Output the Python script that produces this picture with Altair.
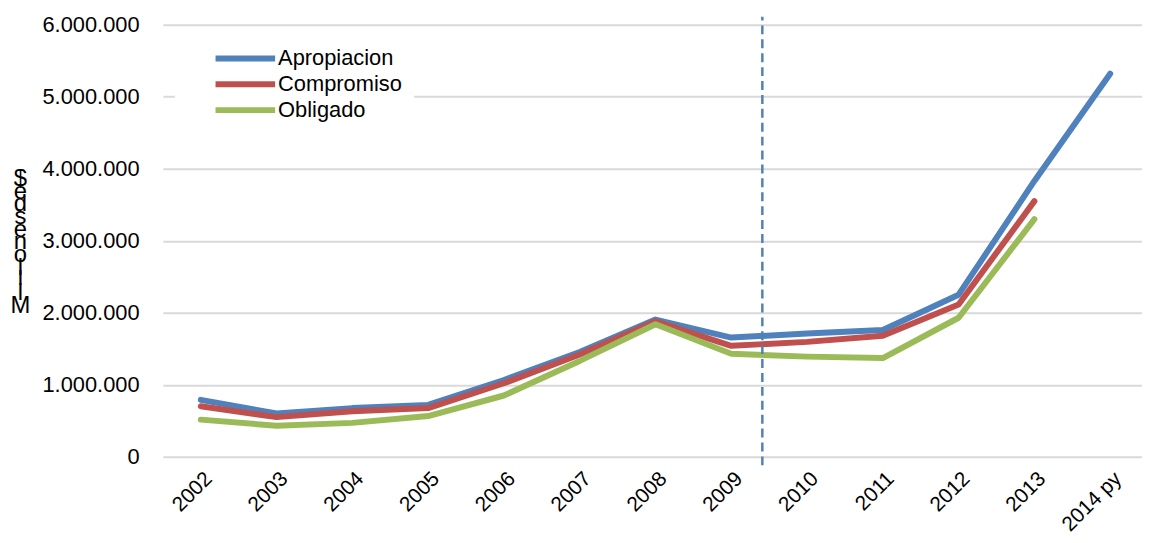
import altair as alt
import pandas as pd

years = ["2002", "2003", "2004", "2005", "2006", "2007", "2008", "2009",
         "2010", "2011", "2012", "2013", "2014 py"]
series_names = ["Apropiacion", "Compromiso", "Obligado"]
apropiacion = [790000, 600000, 675000, 720000, 1065000, 1455000, 1905000,
               1655000, 1710000, 1760000, 2250000, 3830000, 5320000]
compromiso = [700000, 550000, 630000, 675000, 1020000, 1420000, 1880000,
              1540000, 1595000, 1680000, 2115000, 3550000, None]
obligado = [515000, 430000, 470000, 565000, 850000, 1330000, 1840000,
            1430000, 1390000, 1370000, 1930000, 3300000, None]
colors = ["#4F81BD", "#C0504D", "#9BBB59"]
y_ticks = [0, 1000000, 2000000, 3000000, 4000000, 5000000, 6000000]
# "Millones de $" stacked letter by letter (non-breaking spaces keep the gaps)
y_title = ["$", "\u00a0", "e", "d", "\u00a0", "s", "e", "n", "o", "l", "l", "i", "M"]
# divider between 2009 and 2010 (category index) and its vertical extent
divider_x = [7.41]
divider_y = [-120000, 6110000]

rows = []
for name, vals in zip(series_names, [apropiacion, compromiso, obligado]):
    for i, v in enumerate(vals):
        if v is not None:
            rows.append({"serie": name, "idx": i, "valor": v})
df = pd.DataFrame(rows)

div_df = pd.DataFrame({"x": [divider_x[0]], "y": [divider_y[0]], "y2": [divider_y[1]]})

label_expr = "[" + ",".join("'" + y + "'" for y in years) + "][datum.value]"

FONT = "Liberation Sans"

x_scale = alt.Scale(domain=[-0.5, 12.42], nice=False, zero=False)
y_scale = alt.Scale(domain=[0, 6000000], nice=False)

x_axis = alt.Axis(values=list(range(len(years))), labelExpr=label_expr,
                  labelAngle=-45, labelAlign="right", labelBaseline="top",
                  labelPadding=11, labelFontSize=21, labelFont=FONT, labelColor="black",
                  grid=False, domain=False, ticks=False,
                  title=None, labelOverlap=False)
y_axis = alt.Axis(values=y_ticks,
                  labelExpr="replace(format(datum.value, ','), /,/g, '.')",
                  labelFontSize=22, labelFont=FONT, labelColor="black",
                  labelPadding=24, grid=True, gridColor="#D9D9D9", gridWidth=2,
                  domain=False, ticks=False,
                  title=y_title, titleAngle=0, titleX=-144, titleY=155,
                  titleAlign="center", titleBaseline="middle",
                  titleFontSize=24, titleFont=FONT, titleFontWeight="normal",
                  titleColor="black", titleLineHeight=12.75)

lines = alt.Chart(df).mark_line(strokeWidth=6, strokeCap="round", strokeJoin="round").encode(
    x=alt.X("idx:Q", scale=x_scale, axis=x_axis),
    y=alt.Y("valor:Q", scale=y_scale, axis=y_axis),
    color=alt.Color("serie:N", scale=alt.Scale(domain=series_names, range=colors),
                    sort=series_names,
                    legend=alt.Legend(orient="none", legendX=12, legendY=9, padding=12,
                                      fillColor="white", title=None,
                                      symbolType="M-3,0H3", symbolSize=400,
                                      symbolStrokeWidth=6, symbolOffset=46,
                                      labelOffset=20, labelFontSize=22, labelFont=FONT,
                                      labelColor="black", rowPadding=1)),
    order=alt.Order("idx:Q"),
)

divider = alt.Chart(div_df).mark_rule(color="#4F81BD", strokeWidth=2.5,
                                      strokeDash=[9, 5]).encode(
    x=alt.X("x:Q", scale=x_scale, axis=x_axis),
    y=alt.Y("y:Q", scale=y_scale, axis=y_axis),
    y2="y2:Q",
)

chart = alt.layer(lines, divider).properties(
    width=986, height=435,
    autosize=alt.AutoSizeParams(type="none"),
    padding={"left": 156, "top": 15, "right": 0, "bottom": 77},
).configure(font=FONT).configure_view(stroke=None)

chart.save("out.html", embed_options={"renderer": "svg", "actions": False})
